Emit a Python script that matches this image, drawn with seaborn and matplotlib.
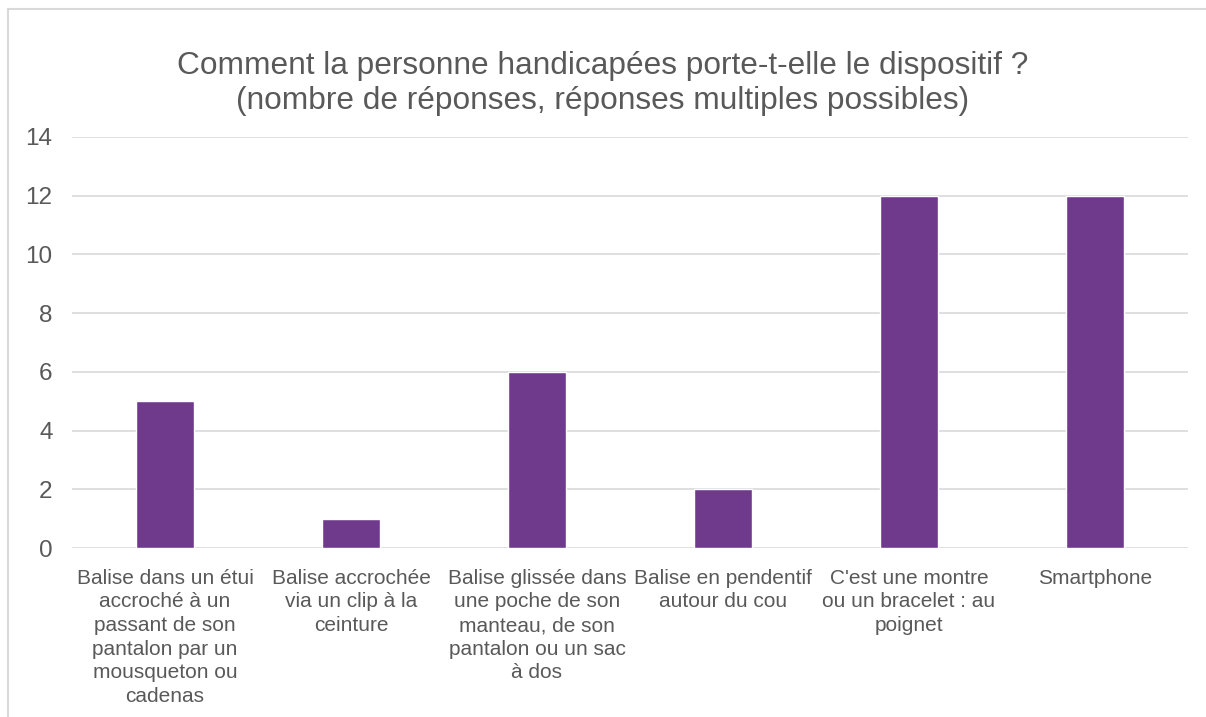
import matplotlib
matplotlib.use('Agg')
import matplotlib.pyplot as plt
import seaborn as sns
import pandas as pd
from matplotlib.lines import Line2D

# donnees
categories = [
    "Balise dans un étui\naccroché à un\npassant de son\npantalon par un\nmousqueton ou\ncadenas",
    "Balise accrochée\nvia un clip à la\nceinture",
    "Balise glissée dans\nune poche de son\nmanteau, de son\npantalon ou un sac\nà dos",
    "Balise en pendentif\nautour du cou",
    "C'est une montre\nou un bracelet : au\npoignet",
    "Smartphone",
]
reponses = [5, 1, 6, 2, 12, 12]
yticks = [0, 2, 4, 6, 8, 10, 12, 14]

df = pd.DataFrame({'categorie': categories, 'reponses': reponses})

sns.set_style('white')
plt.rcParams['font.family'] = ['Liberation Sans', 'DejaVu Sans']

gris = '#595959'
violet = '#703A8C'

fig = plt.figure(figsize=(12.06, 7.17), dpi=100)
ax = fig.add_axes([0.0597, 0.2357, 0.9253, 0.5733])

sns.barplot(data=df, x='categorie', y='reponses', color=violet,
            width=0.31, saturation=1, ax=ax, zorder=3)

ax.set_ylim(0, 14)
ax.set_yticks(yticks)
ax.set_xlim(-0.5, len(categories) - 0.5)
ax.yaxis.grid(True, color='#D9D9D9', linewidth=1.2, zorder=0)
ax.set_axisbelow(True)
for s in ax.spines.values():
    s.set_visible(False)
ax.tick_params(axis='both', length=0, colors=gris)
ax.tick_params(axis='x', pad=15, labelsize=15)
ax.tick_params(axis='y', pad=14, labelsize=17.5)
for t in ax.get_xticklabels():
    t.set_linespacing(1.31)
ax.set_xlabel('')
ax.set_ylabel('')

fig.text(0.5, 0.884, "Comment la personne handicapées porte-t-elle le dispositif ?\n(nombre de réponses, réponses multiples possibles)",
         ha='center', va='center', fontsize=22.8, color=gris, linespacing=1.22)

# cadre de la zone de graphique (coupe)
fig.add_artist(Line2D([8/1206, 8/1206], [0, 1 - 9/717], color='#D9D9D9', linewidth=1.5, transform=fig.transFigure))
fig.add_artist(Line2D([8/1206, 1], [1 - 9/717, 1 - 9/717], color='#D9D9D9', linewidth=1.5, transform=fig.transFigure))

fig.savefig('out.png', dpi=100, facecolor='white')
